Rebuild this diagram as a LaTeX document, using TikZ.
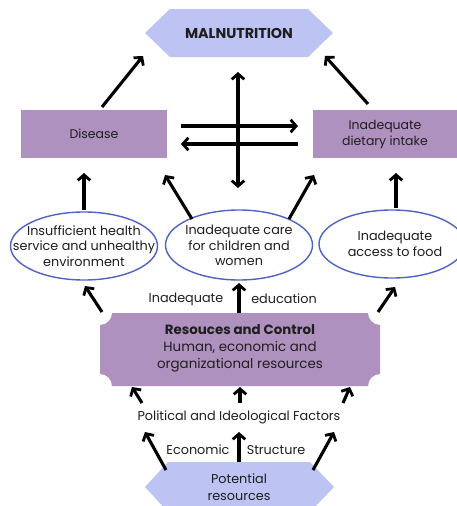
\documentclass[tikz,border=0pt]{standalone}
\usepackage{fontspec}
\setmainfont{Poppins}
\usetikzlibrary{arrows.meta,shapes.geometric}
\definecolor{hexc}{HTML}{BDC4F4}
\definecolor{mauve}{HTML}{AF91BF}
\definecolor{ellb}{HTML}{4F64C2}
\definecolor{txt}{HTML}{1E1E1E}
\begin{document}
\begin{tikzpicture}[x=1pt,y=-1pt,
  arr/.style={line width=3.1pt,-{Straight Barb[length=5.5pt,width=12.5pt,line width=2.8pt]}},
  darr/.style={line width=3.1pt,{Straight Barb[length=5.5pt,width=12.5pt,line width=2.8pt]}-{Straight Barb[length=5.5pt,width=12.5pt,line width=2.8pt]}},
  rectbox/.style={fill=mauve,minimum width=146pt,minimum height=48pt,inner sep=0pt,align=center,text=txt,font=\fontsize{12.5}{16}\selectfont},
  ellbox/.style={ellipse,draw=ellb,line width=1.4pt,fill=white,minimum width=146pt,minimum height=68pt,inner sep=0pt},
  lab/.style={text=txt,inner sep=0pt,font=\fontsize{12.8}{16}\selectfont,align=center}]
\useasboundingbox (0,0) rectangle (457,506);
% hexagons
\fill[hexc] (145,33) -- (170,9) -- (308,9) -- (333,33) -- (308,57) -- (170,57) -- cycle;
\node[lab,font=\fontsize{14.3}{16}\bfseries] (mal) at (239,33) {MALNUTRITION};
\fill[hexc] (145,487) -- (168,462) -- (310,462) -- (334,487) -- (310,512) -- (168,512) -- cycle;
\node[lab,font=\fontsize{12.8}{16.8}\selectfont] (pot) at (239,487) {Potential\\resources};
% rectangles
\node[rectbox] (dis) at (94,134) {Disease};
\node[rectbox,minimum width=144pt] (diet) at (385,134) {Inadequate\\dietary intake};
% ellipses
\node[ellbox,minimum width=147pt] (hlth) at (84,246) {};
\node[lab,font=\fontsize{12.8}{15.6}\selectfont] (hlthtxt) at (hlth.center) {Insufficient health\\service and unhealthy\\environment};
\node[ellbox,minimum width=147pt,minimum height=70pt] (care) at (239,245) {};
\node[lab,font=\fontsize{12.8}{15.8}\selectfont] (caretxt) at ([yshift=-0.5pt]care.center) {Inadequate care\\for children and\\women};
\node[ellbox,minimum width=146pt] (food) at (392,244) {};
\node[lab] (foodtxt) at ([xshift=3pt]food.center) {Inadequate\\access to food};
% resources box
\fill[mauve] (112,313) -- (368,313) arc[start angle=180,end angle=90,radius=12]
  -- (380,374) arc[start angle=270,end angle=180,radius=12]
  -- (112,386) arc[start angle=0,end angle=-90,radius=12]
  -- (100,325) arc[start angle=90,end angle=0,radius=12] -- cycle;
\node[lab,font=\fontsize{13.4}{17}\selectfont] (res) at (240,348) {\textbf{Resouces and Control}\\Human, economic and\\organizational resources};
% labels
\node[lab] (ined) at (186,299) {Inadequate};
\node[lab] (educ) at (284,299) {education};
\node[lab] (pol) at (239,417) {Political and Ideological Factors};
\node[lab] (eco) at (198,450) {Economic};
\node[lab] (str) at (276,450) {Structure};
% arrow end points
\coordinate (a1s) at (102,107); \coordinate (a1e) at (143,56);
\coordinate (a2s) at (368,104); \coordinate (a2e) at (325,56);
\coordinate (vt) at (238,72); \coordinate (vb) at (238,188);
\coordinate (hl) at (181,126); \coordinate (hr) at (298,126);
\coordinate (gl) at (181,144); \coordinate (gr) at (298,144);
\coordinate (b1s) at (84,210); \coordinate (b1e) at (84,173);
\coordinate (b2s) at (192,219); \coordinate (b2e) at (165,175);
\coordinate (b3s) at (289,219); \coordinate (b3e) at (314,175);
\coordinate (b4s) at (396,208); \coordinate (b4e) at (396,173);
\coordinate (c1s) at (102,312); \coordinate (c1e) at (85,286);
\coordinate (c2s) at (239,313); \coordinate (c2e) at (239,283);
\coordinate (c3s) at (378,312); \coordinate (c3e) at (395,287);
\coordinate (d1s) at (142,403); \coordinate (d1e) at (132,387);
\coordinate (d2s) at (240,403); \coordinate (d2e) at (240,387);
\coordinate (d3s) at (343,403); \coordinate (d3e) at (350,387);
\coordinate (e1s) at (166,470); \coordinate (e1e) at (145,432);
\coordinate (e2s) at (239,462); \coordinate (e2e) at (239,432);
\coordinate (e3s) at (313,470); \coordinate (e3e) at (334,432);
\draw[arr] (a1s) -- (a1e);
\draw[arr] (a2s) -- (a2e);
\draw[darr] (vt) -- (vb);
\draw[arr] (hl) -- (hr);
\draw[arr] (gr) -- (gl);
\draw[arr] (b1s) -- (b1e);
\draw[arr] (b2s) -- (b2e);
\draw[arr] (b3s) -- (b3e);
\draw[arr] (b4s) -- (b4e);
\draw[arr] (c1s) -- (c1e);
\draw[arr] (c2s) -- (c2e);
\draw[arr] (c3s) -- (c3e);
\draw[arr] (d1s) -- (d1e);
\draw[arr] (d2s) -- (d2e);
\draw[arr] (d3s) -- (d3e);
\draw[arr] (e1s) -- (e1e);
\draw[arr] (e2s) -- (e2e);
\draw[arr] (e3s) -- (e3e);
\end{tikzpicture}
\end{document}
